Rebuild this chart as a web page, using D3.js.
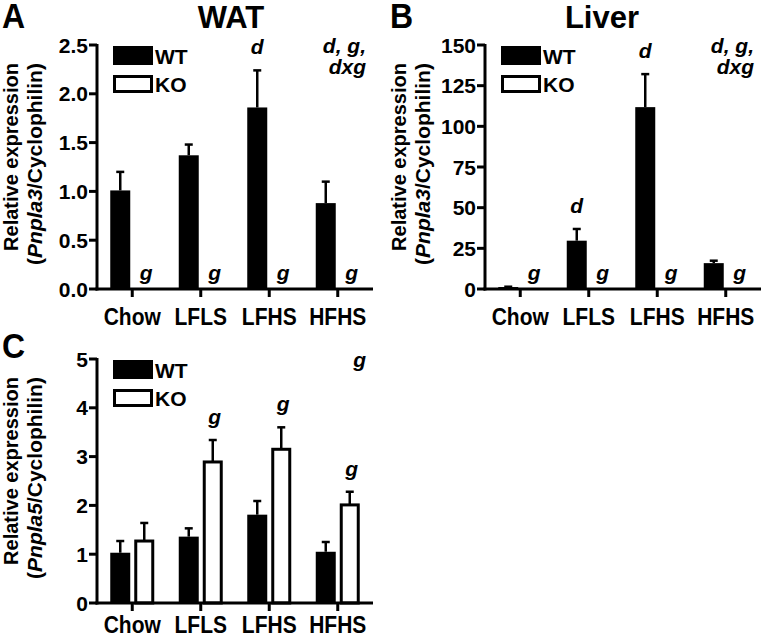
<!DOCTYPE html>
<html>
<head>
<meta charset="utf-8">
<script src="https://cdn.jsdelivr.net/npm/d3@7"></script>
<style>
  body { margin: 0; background: #fff; }
  svg text { font-family: "Liberation Sans", Arial, Helvetica, sans-serif; font-weight: bold; fill: #000; }
</style>
</head>
<body>
<svg id="chart" width="772" height="636"></svg>
<script>
// Daten
const categories = ["Chow", "LFLS", "LFHS", "HFHS"];

const watWT = [1.01, 1.37, 1.86, 0.88];
const watWTerr = [0.19, 0.11, 0.38, 0.22];
const watKO = [0, 0, 0, 0];
const watKOerr = [0, 0, 0, 0];
const watTicks = [0, 0.5, 1.0, 1.5, 2.0, 2.5];

const liverWT = [1.2, 29.7, 111.8, 15.9];
const liverWTerr = [0.2, 7.2, 20.3, 1.5];
const liverKO = [0, 0, 0, 0];
const liverKOerr = [0, 0, 0, 0];
const liverTicks = [0, 25, 50, 75, 100, 125, 150];

const p5WT = [1.03, 1.36, 1.81, 1.05];
const p5WTerr = [0.24, 0.17, 0.28, 0.2];
const p5KO = [1.27, 2.89, 3.15, 2.01];
const p5KOerr = [0.37, 0.45, 0.45, 0.27];
const p5Ticks = [0, 1, 2, 3, 4, 5];

const svg = d3.select("#chart");

// ein Panel zeichnen
function panel(o) {
  const g = svg.append("g").attr("transform", `translate(${o.ox},${o.oy})`);
  const axX = 97, x0 = 98, x1 = 372, yTop = 45, yBase = 289;

  const x = d3.scaleBand().domain(categories).range([x0, x1]);
  const y = d3.scaleLinear().domain([0, o.max]).range([yBase, yTop]);
  const cx = c => x(c) + x.bandwidth() / 2;

  // Panel-Buchstabe und Titel
  g.append("text").attr("transform", `translate(2,${o.letterY}) scale(1,1.08)`)
    .style("font-size", "32px").text(o.letter);
  if (o.title) {
    g.append("text").attr("x", o.titleX).attr("y", 28).attr("text-anchor", "middle")
      .style("font-size", "31px").text(o.title);
  }

  // Balken WT
  g.selectAll("rect.wt").data(categories).enter().append("rect")
    .attr("class", "wt")
    .attr("x", c => cx(c) - 22).attr("width", 20)
    .attr("y", (c, i) => y(o.wt[i])).attr("height", (c, i) => yBase - y(o.wt[i]))
    .attr("fill", "#000");

  // Balken KO
  g.selectAll("rect.ko").data(categories).enter().append("rect")
    .attr("class", "ko")
    .attr("x", c => cx(c) + 3.5).attr("width", 17)
    .attr("y", (c, i) => y(o.ko[i])).attr("height", (c, i) => Math.max(0, yBase - y(o.ko[i])))
    .attr("fill", "#fff").attr("stroke", "#000").attr("stroke-width", 3);

  // Fehlerbalken (nur nach oben)
  function errs(vals, errv, off) {
    categories.forEach((c, i) => {
      if (!errv[i]) return;
      const xc = cx(c) + off;
      g.append("line").attr("x1", xc).attr("x2", xc)
        .attr("y1", y(vals[i])).attr("y2", y(vals[i] + errv[i]))
        .attr("stroke", "#000").attr("stroke-width", 2.5);
      g.append("line").attr("x1", xc - 4).attr("x2", xc + 4)
        .attr("y1", y(vals[i] + errv[i])).attr("y2", y(vals[i] + errv[i]))
        .attr("stroke", "#000").attr("stroke-width", 2.5);
    });
  }
  errs(o.wt, o.wtErr, -12);
  errs(o.ko, o.koErr, 12);

  // Y-Achse
  g.append("line").attr("x1", axX).attr("x2", axX).attr("y1", yTop - 1).attr("y2", yBase + 1.5)
    .attr("stroke", "#000").attr("stroke-width", 3);
  o.ticks.forEach(t => {
    g.append("line").attr("x1", axX - 8).attr("x2", axX).attr("y1", y(t)).attr("y2", y(t))
      .attr("stroke", "#000").attr("stroke-width", 3);
    g.append("text").attr("x", axX - 9).attr("y", y(t) + 7.5).attr("text-anchor", "end")
      .style("font-size", "21px").text(o.fmt(t));
  });

  // X-Achse
  g.append("line").attr("x1", axX - 1.5).attr("x2", 373).attr("y1", yBase).attr("y2", yBase)
    .attr("stroke", "#000").attr("stroke-width", 3);
  categories.forEach(c => {
    g.append("line").attr("x1", cx(c)).attr("x2", cx(c)).attr("y1", yBase).attr("y2", yBase + 8)
      .attr("stroke", "#000").attr("stroke-width", 3);
    g.append("text").attr("transform", `translate(${cx(c)},${yBase + o.labelDy}) scale(1,1.15)`)
      .attr("text-anchor", "middle")
      .style("font-size", "21px").text(c);
  });

  // Achsentitel
  const yMid = (yTop + yBase) / 2;
  const yt = g.append("text").attr("transform", `rotate(-90)`)
    .attr("text-anchor", "middle");
  yt.append("tspan").attr("x", -(yMid - 10)).attr("y", 18).style("font-size", "20px").text("Relative expression");
  const l2 = yt.append("tspan").attr("x", -(yMid - 3)).attr("y", 42).style("font-size", "21px");
  l2.append("tspan").text("(");
  l2.append("tspan").style("font-style", "italic").text(o.gene);
  l2.append("tspan").text("/Cyclophilin)");

  // Legende
  g.append("rect").attr("x", 113).attr("y", 46).attr("width", 40).attr("height", 19).attr("fill", "#000");
  g.append("rect").attr("x", 114.5).attr("y", 76.5).attr("width", 37).attr("height", 15)
    .attr("fill", "#fff").attr("stroke", "#000").attr("stroke-width", 3);
  g.append("text").attr("x", 155).attr("y", 64).style("font-size", "21px").text("WT");
  g.append("text").attr("x", 155).attr("y", 92).style("font-size", "21px").text("KO");

  // Signifikanz-Buchstaben
  o.notes.forEach(n => {
    let xx = cx(categories[n.i]) + (n.s === "wt" ? -12 : 14);
    let yy;
    if (n.base) yy = yBase - 9;
    else {
      const v = n.s === "wt" ? o.wt[n.i] + o.wtErr[n.i] : o.ko[n.i] + o.koErr[n.i];
      yy = y(v) - 16;
    }
    g.append("text").attr("x", xx).attr("y", yy).attr("text-anchor", "middle")
      .style("font-size", "21px").style("font-style", "italic").text(n.t);
  });
  o.corner.forEach((t, k) => {
    g.append("text").attr("x", 366).attr("y", 53 + k * 21).attr("text-anchor", "end")
      .style("font-size", "21px").style("font-style", "italic").text(t);
  });
}

const gNotes = [0, 1, 2, 3].map(i => ({ i: i, s: "ko", t: "g", base: true }));

panel({
  ox: 0, oy: 0, letter: "A", letterY: 28, title: "WAT", titleX: 231, max: 2.5,
  wt: watWT, wtErr: watWTerr, ko: watKO, koErr: watKOerr,
  ticks: watTicks, fmt: d3.format(".1f"), gene: "Pnpla3", labelDy: 36,
  notes: gNotes.concat([{ i: 2, s: "wt", t: "d" }]),
  corner: ["d, g,", "dxg"]
});

panel({
  ox: 388, oy: 0, letter: "B", letterY: 28, title: "Liver", titleX: 214, max: 150,
  wt: liverWT, wtErr: liverWTerr, ko: liverKO, koErr: liverKOerr,
  ticks: liverTicks, fmt: d3.format("d"), gene: "Pnpla3", labelDy: 36,
  notes: gNotes.concat([{ i: 1, s: "wt", t: "d" }, { i: 2, s: "wt", t: "d" }]),
  corner: ["d, g,", "dxg"]
});

panel({
  ox: 0, oy: 314, letter: "C", letterY: 44, title: null, max: 5,
  wt: p5WT, wtErr: p5WTerr, ko: p5KO, koErr: p5KOerr,
  ticks: p5Ticks, fmt: d3.format("d"), gene: "Pnpla5", labelDy: 30,
  notes: [{ i: 1, s: "ko", t: "g" }, { i: 2, s: "ko", t: "g" }, { i: 3, s: "ko", t: "g" }],
  corner: ["g"]
});
</script>
</body>
</html>
